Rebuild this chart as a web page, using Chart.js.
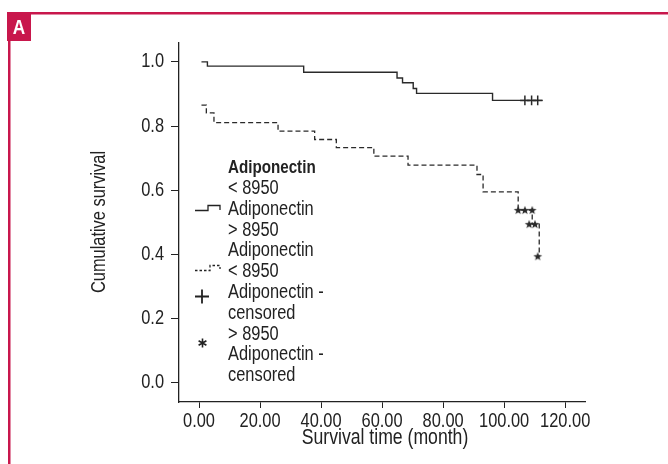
<!DOCTYPE html>
<html><head><meta charset="utf-8">
<script src="https://cdn.jsdelivr.net/npm/chart.js@4"></script>
<style>html,body{margin:0;padding:0;background:#fff;}#wrap{position:relative;width:668px;height:464px;}canvas{display:block;}</style>
</head><body><div id="wrap"><canvas id="c" width="668" height="464"></canvas></div>
<script>
// ---- data ----
const lowTimes = [0.8, 2.75, 34.3, 64.9, 66.7, 70.2, 71.3, 96.2, 112.6];
const lowSurvival = [1.0, 0.987, 0.968, 0.950, 0.935, 0.917, 0.902, 0.880, 0.880];
const highTimes = [0.8, 2.4, 4.9, 25.9, 37.9, 45.0, 57.3, 68.5, 91.1, 93.1, 104.6, 109.2, 111.5];
const highSurvival = [0.865, 0.841, 0.811, 0.784, 0.758, 0.733, 0.706, 0.678, 0.649, 0.595, 0.538, 0.494, 0.394];
const lowCensorTimes = [106.8, 109.0, 111.0];
const lowCensorSurvival = [0.880, 0.880, 0.880];
const highCensorTimes = [104.6, 106.8, 109.2, 108.2, 110.1, 111.0];
const highCensorSurvival = [0.538, 0.538, 0.538, 0.494, 0.494, 0.394];
const xTicks = [0, 20, 40, 60, 80, 100, 120];
const yTicks = [0, 0.2, 0.4, 0.6, 0.8, 1.0];
const legendTitle = 'Adiponectin';
const legendLines = ['< 8950', 'Adiponectin', '> 8950', 'Adiponectin', '< 8950', 'Adiponectin -', 'censored', '> 8950', 'Adiponectin -', 'censored'];
const panelLabel = 'A';
const xTitle = 'Survival time (month)';
const yTitle = 'Cumulative survival';

const FONT = "'Liberation Sans', Arial, sans-serif";
const INK = '#222';
const LINE = '#2a2a2a';
const RED = '#c8174c';
const NARROW = 0.82;

function pts(xs, ys) { return xs.map((x, i) => ({x: x, y: ys[i]})); }

const canvas = document.getElementById('c');
const context = canvas.getContext('2d');
// condensed lettering (Helvetica Condensed look) from the installed Liberation Sans
const origFill = context.fillText;
context.fillText = function (t, x, y, mw) {
  this.save();
  this.translate(x, y);
  this.scale(NARROW, 1);
  if (mw !== undefined) origFill.call(this, t, 0, 0, mw / NARROW); else origFill.call(this, t, 0, 0);
  this.restore();
};

// small five-pointed star used as the censor marker style
function starMarker() {
  const c = document.createElement('canvas');
  c.width = 10; c.height = 10;
  const g = c.getContext('2d');
  g.fillStyle = LINE;
  g.beginPath();
  for (let k = 0; k < 10; k++) {
    const r = k % 2 === 0 ? 4.6 : 1.9;
    const a = -Math.PI / 2 + k * Math.PI / 5;
    const px = 5 + r * Math.cos(a), py = 5.4 + r * Math.sin(a);
    if (k === 0) g.moveTo(px, py); else g.lineTo(px, py);
  }
  g.closePath();
  g.fill();
  return c;
}

const decor = {
  id: 'decor',
  beforeDraw(chart) {
    const ctx = chart.ctx;
    ctx.save();
    ctx.fillStyle = '#fff';
    ctx.fillRect(0, 0, chart.width, chart.height);
    ctx.fillStyle = RED;
    ctx.fillRect(8, 12, 660, 2.5);
    ctx.fillRect(8, 12, 2.5, 452);
    ctx.fillRect(7, 12, 24, 29);
    ctx.fillStyle = '#fff';
    ctx.font = 'bold 21px ' + FONT;
    ctx.textAlign = 'center';
    ctx.textBaseline = 'middle';
    ctx.fillText(panelLabel, 19, 28);
    ctx.restore();
  },
  afterDraw(chart) {
    const ctx = chart.ctx;
    const area = chart.chartArea;
    ctx.save();
    ctx.fillStyle = INK;
    // axis titles
    ctx.font = '21.5px ' + FONT;
    ctx.textAlign = 'center';
    ctx.textBaseline = 'middle';
    ctx.fillText(xTitle, (area.left + area.right) / 2 + 3, 438);
    ctx.font = '20px ' + FONT;
    ctx.save();
    ctx.translate(105, 222);
    ctx.rotate(-Math.PI / 2);
    ctx.textBaseline = 'alphabetic';
    ctx.fillText(yTitle, 0, 0);
    ctx.restore();
    // legend
    ctx.textAlign = 'left';
    ctx.textBaseline = 'middle';
    ctx.font = 'bold 18.5px ' + FONT;
    ctx.fillText(legendTitle, 228, 168);
    ctx.font = '20px ' + FONT;
    const y0 = 188.5, dy = 20.8;
    legendLines.forEach((t, i) => ctx.fillText(t, 228, y0 + i * dy));
    ctx.strokeStyle = INK;
    ctx.lineWidth = 1.3;
    // solid step symbol
    ctx.beginPath();
    ctx.moveTo(195, 210.5); ctx.lineTo(208, 210.5); ctx.lineTo(208, 205.5); ctx.lineTo(220, 205.5); ctx.lineTo(220, 210);
    ctx.stroke();
    // dashed step symbol
    ctx.setLineDash([2.5, 2]);
    ctx.beginPath();
    ctx.moveTo(195, 270.5); ctx.lineTo(210, 270.5); ctx.lineTo(210, 265.5); ctx.lineTo(220, 265.5); ctx.lineTo(220, 269);
    ctx.stroke();
    ctx.setLineDash([]);
    // plus symbol
    ctx.lineWidth = 1.8;
    ctx.beginPath();
    ctx.moveTo(195, 296.5); ctx.lineTo(209, 296.5);
    ctx.moveTo(202, 289.5); ctx.lineTo(202, 303.5);
    ctx.stroke();
    // asterisk symbol
    ctx.lineWidth = 1.6;
    ctx.beginPath();
    const cx = 202.5, cy = 343, r = 4.5;
    for (let k = 0; k < 3; k++) {
      const a = Math.PI / 2 + k * Math.PI / 3;
      ctx.moveTo(cx + r * Math.cos(a), cy - r * Math.sin(a));
      ctx.lineTo(cx - r * Math.cos(a), cy + r * Math.sin(a));
    }
    ctx.stroke();
    ctx.restore();
  }
};

new Chart(canvas, {
  type: 'line',
  data: {
    datasets: [
      {label: '< 8950 Adiponectin', data: pts(lowTimes, lowSurvival), stepped: 'before', borderColor: LINE, borderWidth: 1.4, pointRadius: 0, fill: false},
      {label: '> 8950 Adiponectin', data: pts(highTimes, highSurvival), stepped: 'before', borderColor: LINE, borderWidth: 1.3, borderDash: [5, 3], pointRadius: 0, fill: false},
      {label: '< 8950 Adiponectin - censored', type: 'scatter', data: pts(lowCensorTimes, lowCensorSurvival), pointStyle: 'cross', pointRadius: 4.8, borderColor: LINE, borderWidth: 1.5, showLine: false},
      {label: '> 8950 Adiponectin - censored', type: 'scatter', data: pts(highCensorTimes, highCensorSurvival), pointStyle: starMarker(), pointRadius: 5, borderColor: LINE, showLine: false}
    ]
  },
  options: {
    responsive: false,
    animation: false,
    devicePixelRatio: 1,
    layout: {padding: {left: 0, top: 43, right: 83, bottom: 0}},
    plugins: {legend: {display: false}, tooltip: {enabled: false}},
    scales: {
      x: {
        type: 'linear', min: -6.56, max: 126.5,
        afterFit(s) { s.height = 62; },
        afterBuildTicks(s) { s.ticks = xTicks.map(v => ({value: v})); },
        grid: {drawOnChartArea: false, drawTicks: true, tickLength: 6, color: INK, lineWidth: 1},
        border: {display: true, color: INK, width: 1.3},
        ticks: {padding: 1, color: INK, font: {family: FONT, size: 20}, maxRotation: 0, autoSkip: false, callback: v => Number(v).toFixed(2)}
      },
      y: {
        type: 'linear', min: -0.0605, max: 1.059,
        afterFit(s) { s.width = 179; },
        afterBuildTicks(s) { s.ticks = yTicks.map(v => ({value: v})); },
        grid: {drawOnChartArea: false, drawTicks: true, tickLength: 8, color: INK, lineWidth: 1},
        border: {display: true, color: INK, width: 1.3},
        ticks: {padding: 7, color: INK, font: {family: FONT, size: 20}, autoSkip: false, callback: v => Number(v).toFixed(1)}
      }
    }
  },
  plugins: [decor]
});
</script>
</body></html>
